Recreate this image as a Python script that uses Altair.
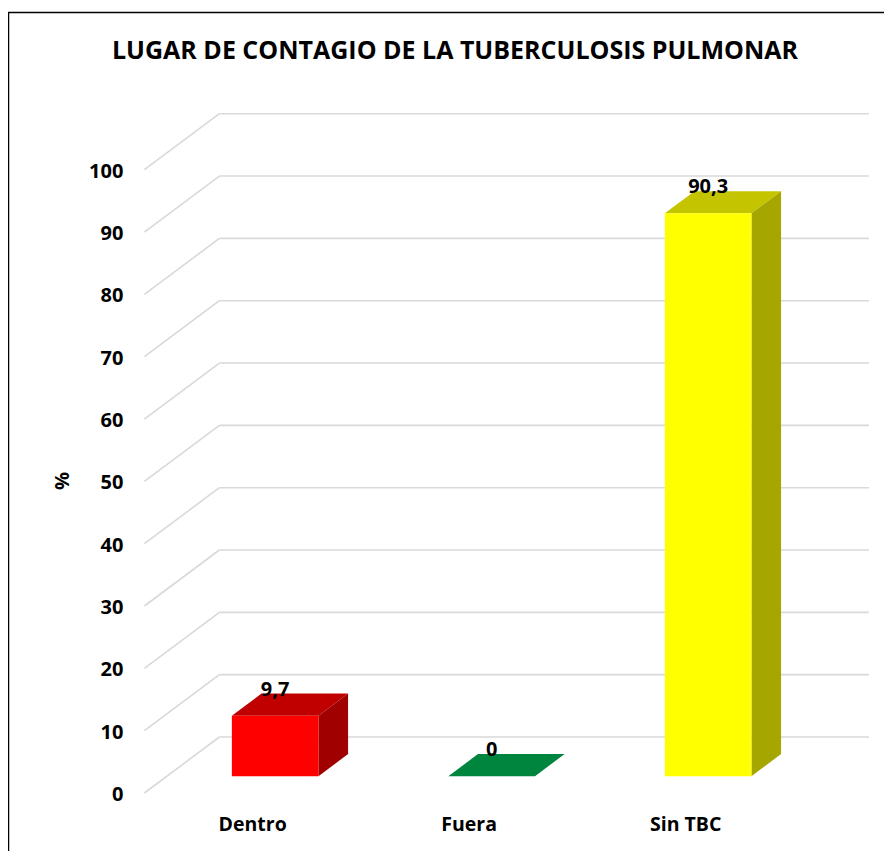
import altair as alt
import pandas as pd

# ---- data ----
title = "LUGAR DE CONTAGIO DE LA TUBERCULOSIS PULMONAR"
cats = ["Dentro", "Fuera", "Sin TBC"]
vals = [9.7, 0, 90.3]
front_colors = ["#FF0000", "#00853F", "#FFFF00"]
top_colors = ["#C00000", "#00853F", "#C4C400"]
side_colors = ["#A00000", "#006630", "#A6A600"]
ticks = list(range(0, 101, 10))

# ---- 3D projection parameters (in data units) ----
DX = 75 / 216.5      # depth shift along x (category slots)
DY = 56 / 6.233      # depth shift along y (percent units)
F1, F2 = 0.30, 0.695  # front / back depth fraction of bars
HALF = 0.2            # half bar width (slots)

FONT = "Open Sans"

xs = alt.Scale(domain=[0, 4], range=[136.4, 1002.4], nice=False, zero=False)
ys = alt.Scale(domain=[0, 100], range=[785, 161.7], nice=False, zero=False)

# gridlines
side_df = pd.DataFrame({"x": [0.0] * len(ticks), "y": ticks,
                        "x2": [DX] * len(ticks), "y2": [t + DY for t in ticks]})
back_df = pd.DataFrame({"x": [DX] * len(ticks), "y": [t + DY for t in ticks],
                        "x2": [3 + DX] * len(ticks), "y2": [t + DY for t in ticks]})

front_rows, top_rows, side_rows, lab_rows = [], [], [], []
for i, (c, v) in enumerate(zip(cats, vals)):
    s = i + 0.5
    front_rows.append({"cat": c, "x": s - HALF + F1 * DX, "x2": s + HALF + F1 * DX,
                       "y": F1 * DY, "y2": v + F1 * DY, "col": front_colors[i]})
    for f in (F1, F2):
        top_rows.append({"cat": c, "yk": v + f * DY, "xl": s - HALF + f * DX,
                         "xr": s + HALF + f * DX, "col": top_colors[i]})
        side_rows.append({"cat": c, "xk": s + HALF + f * DX, "ylo": f * DY,
                          "yhi": v + f * DY, "col": side_colors[i]})
    lab_rows.append({"cat": c, "x": s + F1 * DX, "y": v + F1 * DY,
                     "lab": f"{v:g}".replace(".", ",")})

front_df = pd.DataFrame(front_rows)
top_df = pd.DataFrame(top_rows)
sdf = pd.DataFrame(side_rows)
lab_df = pd.DataFrame(lab_rows)
cat_df = pd.DataFrame({"cat": cats, "x": [i + 0.5 for i in range(len(cats))], "y": [0] * len(cats)})
tick_df = pd.DataFrame({"t": ticks, "x": [0] * len(ticks)})

grid_color = "#D9D9D9"

side_lines = alt.Chart(side_df).mark_rule(color=grid_color, strokeWidth=1.6).encode(
    x=alt.X("x:Q", scale=xs, axis=None), y=alt.Y("y:Q", scale=ys, axis=None),
    x2="x2:Q", y2="y2:Q")
back_lines = alt.Chart(back_df).mark_rule(color=grid_color, strokeWidth=1.6).encode(
    x=alt.X("x:Q", scale=xs, axis=None), y=alt.Y("y:Q", scale=ys, axis=None),
    x2="x2:Q", y2="y2:Q")

top_face = alt.Chart(top_df).mark_area(orient="horizontal").encode(
    y=alt.Y("yk:Q", scale=ys, axis=None),
    x=alt.X("xl:Q", scale=xs, axis=None), x2="xr:Q",
    detail="cat:N", color=alt.Color("col:N", scale=None))
side_face = alt.Chart(sdf).mark_area(orient="vertical").encode(
    x=alt.X("xk:Q", scale=xs, axis=None),
    y=alt.Y("ylo:Q", scale=ys, axis=None), y2="yhi:Q",
    detail="cat:N", color=alt.Color("col:N", scale=None))
front_face = alt.Chart(front_df).mark_rect().encode(
    x=alt.X("x:Q", scale=xs, axis=None), x2="x2:Q",
    y=alt.Y("y:Q", scale=ys, axis=None), y2="y2:Q",
    color=alt.Color("col:N", scale=None))

val_labels = alt.Chart(lab_df).mark_text(font=FONT, fontWeight="bold", fontSize=20,
                                         dx=0, dy=-26, baseline="middle", color="black").encode(
    x=alt.X("x:Q", scale=xs, axis=None), y=alt.Y("y:Q", scale=ys, axis=None), text="lab:N")
cat_labels = alt.Chart(cat_df).mark_text(font=FONT, fontWeight="bold", fontSize=19.5,
                                         dy=32, baseline="middle", color="black").encode(
    x=alt.X("x:Q", scale=xs, axis=None), y=alt.Y("y:Q", scale=ys, axis=None), text="cat:N")
tick_labels = alt.Chart(tick_df).mark_text(font=FONT, fontWeight="bold", fontSize=20,
                                           dx=-21, dy=2, align="right", baseline="middle", color="black").encode(
    x=alt.X("x:Q", scale=xs, axis=None), y=alt.Y("t:Q", scale=ys, axis=None), text="t:Q")

title_mark = alt.Chart(pd.DataFrame({"t": [title]})).mark_text(
    font=FONT, fontWeight="bold", fontSize=25, color="black", baseline="middle", align="center"
).encode(x=alt.value(447), y=alt.value(43), text="t:N")
pct_mark = alt.Chart(pd.DataFrame({"t": ["%"]})).mark_text(
    font=FONT, fontWeight="bold", fontSize=20, color="black", angle=270,
    baseline="middle", align="center"
).encode(x=alt.value(55), y=alt.value(473), text="t:N")

frame_left = alt.Chart(pd.DataFrame({"a": [0]})).mark_rule(color="black", strokeWidth=1.5).encode(
    x=alt.value(0.5), y=alt.value(4), y2=alt.value(843))
frame_top = alt.Chart(pd.DataFrame({"a": [0]})).mark_rule(color="black", strokeWidth=1.5).encode(
    x=alt.value(0), x2=alt.value(876), y=alt.value(4.5))

chart = alt.layer(
    side_lines, back_lines, top_face, side_face, front_face,
    val_labels, cat_labels, tick_labels, title_mark, pct_mark, frame_left, frame_top
).properties(
    width=876, height=843, padding=0, autosize=alt.AutoSizeParams(type="none"),
    background="white"
).configure_view(stroke=None)

chart.save("out.html", embed_options={"renderer": "svg", "actions": False})
